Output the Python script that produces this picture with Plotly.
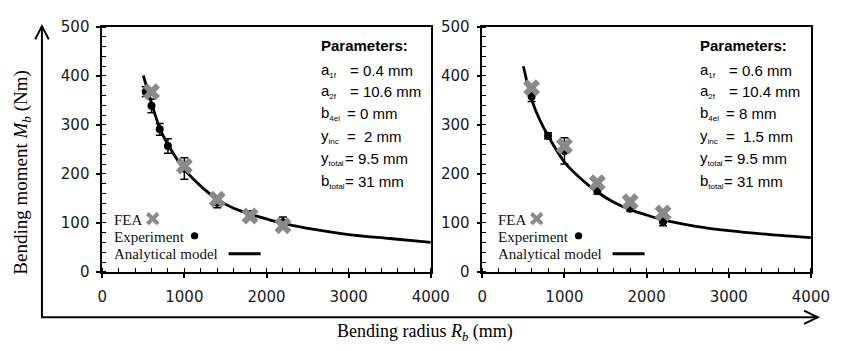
import plotly.graph_objects as go

W, H = 861, 351

# ---------------- data ----------------
# Left panel
curve_R_left = [500, 600, 700, 800, 1000, 1200, 1400, 1600, 1800, 2000, 2200, 2600, 3000, 3500, 4000]
curve_M_left = [401, 345, 293, 260, 209, 175, 148, 130, 118, 108, 99, 86, 76, 68, 60]
exp_R_left = [530, 600, 700, 800, 1000, 1400, 1800, 2200]
exp_M_left = [368, 339, 291, 257, 211, 141, 117, 101]
exp_err_left = [10, 14, 12, 15, 22, 10, 7, 11]
fea_R_left = [600, 1000, 1400, 1800, 2200]
fea_M_left = [368, 216, 148, 114, 94]

# Right panel
curve_R_right = [500, 600, 700, 800, 1000, 1200, 1400, 1600, 1800, 2000, 2200, 2600, 3000, 3500, 4000]
curve_M_right = [420, 352, 310, 278, 224, 190, 163, 142, 127, 116, 106, 93, 84, 76, 70]
exp_R_right = [600, 800, 1000, 1400, 1800, 2200]
exp_M_right = [358, 278, 247, 165, 129, 102]
exp_err_right = [10, 6, 27, 6, 5, 8]
fea_R_right = [600, 1000, 1400, 1800, 2200]
fea_M_right = [376, 257, 182, 143, 120]

param_letters = ["a", "a", "b", "y", "y", "b"]
param_subs = ["1f", "2f", "4el", "inc", "total", "total"]
param_values_left = ["= 0.4 mm", "= 10.6 mm", "= 0 mm", "=  2 mm", "= 9.5 mm", "= 31 mm"]
param_values_right = ["= 0.6 mm", "= 10.4 mm", "= 8 mm", "=  1.5 mm", "= 9.5 mm", "= 31 mm"]
legend_labels = ["FEA", "Experiment", "Analytical model"]

x_title = "Bending radius <i>R<sub>b</sub></i> (mm)"
y_title = "Bending moment <i>M<sub>b</sub></i> (Nm)"

# ---------------- style ----------------
FEA_COLOR = "#8a8a8a"
TICK_FONT = dict(family="DejaVu Sans", size=15, color="#1a1a1a")
SERIF = "Liberation Serif"
SANS = "Liberation Sans"


def px(x):
    return x / W


def py(y):
    return 1 - y / H


fig = go.Figure()


def add_panel(sfx, cR, cM, eR, eM, eE, fR, fM):
    xa, ya = "x" + sfx, "y" + sfx
    fig.add_trace(go.Scatter(x=cR, y=cM, mode="lines",
                             line=dict(color="black", width=2.8, shape="spline", smoothing=0.8),
                             xaxis=xa, yaxis=ya, showlegend=False, hoverinfo="skip"))
    fig.add_trace(go.Scatter(x=eR, y=eM, mode="markers",
                             marker=dict(color="black", size=8, symbol="circle"),
                             error_y=dict(type="data", array=eE, visible=True, color="black",
                                          thickness=1.5, width=4),
                             xaxis=xa, yaxis=ya, showlegend=False))
    fig.add_trace(go.Scatter(x=fR, y=fM, mode="markers",
                             marker=dict(color=FEA_COLOR, size=15, symbol="x", line=dict(width=0)),
                             xaxis=xa, yaxis=ya, showlegend=False))


add_panel("", curve_R_left, curve_M_left, exp_R_left, exp_M_left, exp_err_left, fea_R_left, fea_M_left)
add_panel("2", curve_R_right, curve_M_right, exp_R_right, exp_M_right, exp_err_right, fea_R_right, fea_M_right)

ydom = [py(277), py(19)]


def xaxis_cfg(dom, anchor):
    return dict(domain=dom, anchor=anchor, range=[0, 4000], dtick=1000, tick0=0,
                showline=True, linecolor="black", linewidth=1.5, mirror=True,
                ticks="outside", ticklen=4, tickwidth=1.5, tickcolor="black",
                minor=dict(ticks="inside", dtick=200, ticklen=4, tickwidth=1.2, tickcolor="black"),
                showgrid=False, zeroline=False, tickfont=TICK_FONT, ticklabelstandoff=6,
                fixedrange=True)


def yaxis_cfg(anchor):
    return dict(domain=ydom, anchor=anchor, range=[0, 500], dtick=100, tick0=0,
                showline=True, linecolor="black", linewidth=1.5, mirror=True,
                ticks="outside", ticklen=4, tickwidth=1.5, tickcolor="black",
                minor=dict(ticks="inside", dtick=20, ticklen=4, tickwidth=1.2, tickcolor="black"),
                showgrid=False, zeroline=False, tickfont=TICK_FONT, ticklabelstandoff=4,
                fixedrange=True)


fig.update_layout(
    width=W, height=H,
    margin=dict(l=0, r=0, t=0, b=0),
    paper_bgcolor="white", plot_bgcolor="white",
    showlegend=False,
    xaxis=xaxis_cfg([px(100), px(438)], "y"),
    yaxis=yaxis_cfg("x"),
    xaxis2=xaxis_cfg([px(491), px(829)], "y2"),
    yaxis2=yaxis_cfg("x2"),
)

annotations = []
shapes = []

# Axis titles
annotations.append(dict(text=x_title, x=px(432), y=py(341), xref="paper", yref="paper",
                        showarrow=False, font=dict(family=SERIF, size=18, color="black"),
                        xanchor="center", yanchor="middle"))
annotations.append(dict(text=y_title, x=px(18), y=py(172), xref="paper", yref="paper",
                        showarrow=False, textangle=-90, font=dict(family=SERIF, size=19, color="black"),
                        xanchor="center", yanchor="middle"))

# Outer arrows
LW = 2
shapes.append(dict(type="line", xref="paper", yref="paper", x0=px(38), y0=py(325), x1=px(38), y1=py(19),
                   line=dict(color="black", width=LW)))
shapes.append(dict(type="path", xref="paper", yref="paper",
                   path=f"M {px(31)},{py(32)} L {px(38)},{py(18)} L {px(45)},{py(32)}",
                   line=dict(color="black", width=LW)))
shapes.append(dict(type="line", xref="paper", yref="paper", x0=px(37), y0=py(325), x1=px(836), y1=py(325),
                   line=dict(color="black", width=LW)))
shapes.append(dict(type="path", xref="paper", yref="paper",
                   path=f"M {px(822)},{py(318)} L {px(836)},{py(325)} L {px(822)},{py(332)}",
                   line=dict(color="black", width=LW)))

# Parameters boxes
param_rows_y = [65, 87, 110, 134, 158, 182]
eq_offsets = [30, 30, 27, 27, 25, 25]


def add_params(x0, values):
    annotations.append(dict(text="<b>Parameters:</b>", x=px(x0), y=py(38), xref="paper", yref="paper",
                            showarrow=False, xanchor="left", yanchor="middle",
                            font=dict(family=SANS, size=15, color="black")))
    for let, sub, val, yy, off in zip(param_letters, param_subs, values, param_rows_y, eq_offsets):
        name = f"{let}<sub><span style='font-size:8px'>{sub}</span></sub>"
        annotations.append(dict(text=name, x=px(x0), y=py(yy), xref="paper", yref="paper",
                                showarrow=False, xanchor="left", yanchor="middle",
                                font=dict(family=SANS, size=15, color="black")))
        annotations.append(dict(text=val, x=px(x0 + off), y=py(yy), xref="paper", yref="paper",
                                showarrow=False, xanchor="left", yanchor="middle",
                                font=dict(family=SANS, size=15, color="black")))


add_params(323, param_values_left)
add_params(713, param_values_right)


# Legends (text then symbol)
def add_legend(x0):
    ys = [222, 240, 258]
    for lab, yy in zip(legend_labels, ys):
        annotations.append(dict(text=lab, x=px(x0), y=py(yy), xref="paper", yref="paper",
                                showarrow=False, xanchor="left", yanchor="middle",
                                font=dict(family=SERIF, size=15, color="#111")))
    cx, cy, r = x0 + 42, 221, 5.5
    for d in (-1, 1):
        shapes.append(dict(type="line", xref="paper", yref="paper",
                           x0=px(cx - r), y0=py(cy - d * r), x1=px(cx + r), y1=py(cy + d * r),
                           line=dict(color=FEA_COLOR, width=4)))
    dx0, dy0, rr = x0 + 85, 239, 3.8
    shapes.append(dict(type="circle", xref="paper", yref="paper",
                       x0=px(dx0 - rr), y0=py(dy0 + rr), x1=px(dx0 + rr), y1=py(dy0 - rr),
                       fillcolor="black", line=dict(color="black", width=0)))
    shapes.append(dict(type="line", xref="paper", yref="paper",
                       x0=px(x0 + 120), y0=py(258), x1=px(x0 + 153), y1=py(258),
                       line=dict(color="black", width=3)))


add_legend(110)
add_legend(505)

fig.update_layout(annotations=annotations, shapes=shapes)

fig.write_html("out.html", config={"displayModeBar": False, "responsive": False},
               post_script="document.body.style.margin='0';")
